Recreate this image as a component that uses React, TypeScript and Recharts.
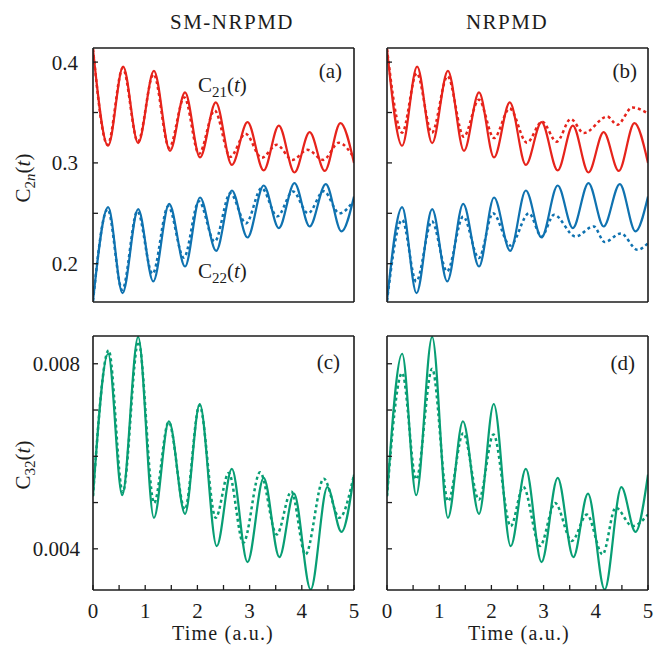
import React from 'react';
import { LineChart, Line, XAxis, YAxis } from 'recharts';

const FONT = '"Liberation Serif", "Times New Roman", serif';
const INK = '#1c1c1c';
const RED = '#e6231b';
const BLUE = '#0f72b0';
const GREEN = '#089e74';

// shared time axis
const timeTicks = [0, 0.5, 1, 1.5, 2, 2.5, 3, 3.5, 4, 4.5, 5];
const timeLabels = ['0', '', '1', '', '2', '', '3', '', '4', '', '5'];

// y ticks, panels (a)/(b) and (c)/(d)
const c2nTicks = [0.2, 0.25, 0.3, 0.35, 0.4];
const c2nLabels = ['0.2', '', '0.3', '', '0.4'];
const c32Ticks = [0.004, 0.005, 0.006, 0.007, 0.008];
const c32Labels = ['0.004', '', '', '', '0.008'];

// C21(t): exact (solid, same in a and b)
const c21ExactT = [0, 0.29, 0.577, 0.865, 1.167, 1.475, 1.763, 2.05, 2.353, 2.66, 2.96, 3.27, 3.56, 3.86, 4.15, 4.44, 4.74, 5.0];
const c21ExactV = [0.413, 0.317, 0.3956, 0.3196, 0.3914, 0.312, 0.37, 0.3054, 0.36, 0.298, 0.3405, 0.2925, 0.337, 0.2905, 0.3305, 0.292, 0.3395, 0.3];
// C21(t): SM-NRPMD (dotted, a)
const c21SmT = [0, 0.28, 0.57, 0.86, 1.16, 1.46, 1.75, 2.03, 2.33, 2.63, 2.92, 3.23, 3.52, 3.82, 4.11, 4.41, 4.71, 5.0];
const c21SmV = [0.413, 0.318, 0.394, 0.321, 0.388, 0.315, 0.365, 0.309, 0.352, 0.306, 0.329, 0.305, 0.318, 0.303, 0.313, 0.303, 0.32, 0.305];
// C21(t): NRPMD (dotted, b)
const c21NrT = [0, 0.29, 0.57, 0.86, 1.16, 1.47, 1.76, 2.05, 2.35, 2.68, 2.97, 3.25, 3.52, 3.77, 4.22, 4.41, 4.7, 5.0];
const c21NrV = [0.413, 0.33, 0.389, 0.33, 0.386, 0.326, 0.3626, 0.3246, 0.354, 0.32, 0.341, 0.321, 0.3435, 0.3296, 0.346, 0.3378, 0.355, 0.349];

// C22(t): exact
const c22ExactT = [0, 0.29, 0.565, 0.865, 1.154, 1.46, 1.763, 2.05, 2.36, 2.66, 2.96, 3.27, 3.56, 3.86, 4.15, 4.46, 4.76, 5.0];
const c22ExactV = [0.163, 0.2561, 0.1708, 0.2542, 0.1824, 0.2594, 0.1972, 0.2657, 0.2128, 0.2726, 0.226, 0.2776, 0.2353, 0.28, 0.2369, 0.279, 0.232, 0.2667];
// C22(t): SM-NRPMD
const c22SmT = [0, 0.28, 0.56, 0.85, 1.14, 1.44, 1.74, 2.03, 2.33, 2.63, 2.93, 3.23, 3.53, 3.83, 4.12, 4.42, 4.72, 5.0];
const c22SmV = [0.163, 0.254, 0.174, 0.252, 0.19, 0.257, 0.206, 0.262, 0.222, 0.27, 0.24, 0.275, 0.247, 0.2716, 0.25, 0.272, 0.25, 0.263];
// C22(t): NRPMD
const c22NrT = [0, 0.29, 0.56, 0.86, 1.15, 1.46, 1.76, 2.03, 2.36, 2.72, 2.96, 3.2, 3.61, 3.96, 4.17, 4.48, 4.8, 5.0];
const c22NrV = [0.163, 0.2435, 0.1824, 0.242, 0.1923, 0.2468, 0.2056, 0.25, 0.218, 0.25, 0.227, 0.2485, 0.227, 0.237, 0.2215, 0.23, 0.2138, 0.2204];

// C32(t): exact (solid, same in c and d)
const c32ExactT = [0, 0.29, 0.56, 0.865, 1.167, 1.455, 1.763, 2.045, 2.37, 2.66, 2.96, 3.27, 3.57, 3.85, 4.17, 4.49, 4.76, 5.0];
const c32ExactV = [0.005137, 0.008216, 0.005159, 0.00858, 0.004669, 0.006757, 0.004756, 0.00713, 0.004058, 0.005727, 0.003713, 0.005533, 0.003821, 0.005194, 0.003121, 0.005332, 0.004367, 0.005604];
// C32(t): SM-NRPMD
const c32SmT = [0, 0.3, 0.57, 0.87, 1.17, 1.45, 1.76, 2.04, 2.35, 2.6, 2.88, 3.2, 3.52, 3.8, 4.07, 4.42, 4.72, 5.0];
const c32SmV = [0.005137, 0.00829, 0.00522, 0.00848, 0.00499, 0.00674, 0.00485, 0.0071, 0.00467, 0.00564, 0.00413, 0.005655, 0.00431, 0.00524, 0.003877, 0.005517, 0.00467, 0.0056];
// C32(t): NRPMD
const c32NrT = [0, 0.29, 0.56, 0.865, 1.17, 1.46, 1.76, 2.04, 2.37, 2.61, 2.93, 3.22, 3.54, 3.83, 4.13, 4.38, 4.7, 5.0];
const c32NrV = [0.005137, 0.0078, 0.0055, 0.00789, 0.00503, 0.0065, 0.00506, 0.00647, 0.00449, 0.00534, 0.00406, 0.00499, 0.00417, 0.00474, 0.00388, 0.00489, 0.00449, 0.00474];

const zip = (t: number[], v: number[]) => t.map((x, i) => ({ t: x, v: v[i] }));

type Curve = { t: number[]; v: number[]; color: string; dotted?: boolean };

const axisLine = { stroke: INK, strokeWidth: 1.6 };
const tickLine = { stroke: INK, strokeWidth: 1.3 };
const tickFont = { fontSize: 21, fontFamily: FONT, fill: INK };

const Panel = ({
  left, top, withTime, yDomain, yTicks, yLabels, yMargin, curves,
}: {
  left: number; top: number; withTime: boolean; yDomain: [number, number];
  yTicks: number[]; yLabels: string[]; yMargin: number; curves: Curve[];
}) => {
  const bottomH = withTime ? 55 : 8;
  return (
    <div style={{ position: 'absolute', left, top }}>
      <LineChart width={360} height={48 + 254 + bottomH} margin={{ top: 0, right: 0, bottom: 0, left: 0 }}>
        <XAxis
          xAxisId="x" type="number" dataKey="t" domain={[0, 5]} allowDataOverflow
          ticks={timeTicks} interval={0} height={bottomH}
          tickSize={-5} tickMargin={18} axisLine={axisLine} tickLine={tickLine}
          tick={withTime ? tickFont : false}
          tickFormatter={(_v: number, i: number) => timeLabels[i]}
        />
        <XAxis
          xAxisId="xt" type="number" orientation="top" domain={[0, 5]} allowDataOverflow
          ticks={timeTicks} interval={0} height={48}
          tickSize={-5} axisLine={axisLine} tickLine={tickLine} tick={false}
        />
        <YAxis
          yAxisId="y" type="number" domain={yDomain} allowDataOverflow
          ticks={yTicks} interval={0} width={93}
          tickSize={-5} tickMargin={yMargin} axisLine={axisLine} tickLine={tickLine}
          tick={tickFont}
          tickFormatter={(_v: number, i: number) => yLabels[i]}
        />
        <YAxis
          yAxisId="yr" type="number" orientation="right" domain={yDomain} allowDataOverflow
          ticks={yTicks} interval={0} width={6}
          tickSize={-5} axisLine={axisLine} tickLine={tickLine} tick={false}
        />
        {curves.map((c, i) => (
          <Line
            key={i}
            data={zip(c.t, c.v)}
            dataKey="v"
            xAxisId="x"
            yAxisId="y"
            type="monotone"
            dot={false}
            activeDot={false}
            stroke={c.color}
            strokeWidth={c.dotted ? 2.5 : 2.2}
            strokeDasharray={c.dotted ? '3 3' : undefined}
            isAnimationActive={false}
          />
        ))}
      </LineChart>
    </div>
  );
};

const txt = { fontFamily: FONT, fill: INK, fontSize: 21 } as const;

export default function App() {
  return (
    <div style={{ position: 'absolute', left: 0, top: 0, width: 654, height: 645, background: '#fff' }}>
      <Panel
        left={0} top={0} withTime={false} yDomain={[0.162, 0.414]} yTicks={c2nTicks} yLabels={c2nLabels} yMargin={20}
        curves={[
          { t: c21ExactT, v: c21ExactV, color: RED },
          { t: c21SmT, v: c21SmV, color: RED, dotted: true },
          { t: c22ExactT, v: c22ExactV, color: BLUE },
          { t: c22SmT, v: c22SmV, color: BLUE, dotted: true },
        ]}
      />
      <Panel
        left={294} top={0} withTime={false} yDomain={[0.162, 0.414]} yTicks={c2nTicks} yLabels={['', '', '', '', '']} yMargin={20}
        curves={[
          { t: c21ExactT, v: c21ExactV, color: RED },
          { t: c21NrT, v: c21NrV, color: RED, dotted: true },
          { t: c22ExactT, v: c22ExactV, color: BLUE },
          { t: c22NrT, v: c22NrV, color: BLUE, dotted: true },
        ]}
      />
      <Panel
        left={0} top={288} withTime yDomain={[0.00311, 0.0086]} yTicks={c32Ticks} yLabels={c32Labels} yMargin={18}
        curves={[
          { t: c32ExactT, v: c32ExactV, color: GREEN },
          { t: c32SmT, v: c32SmV, color: GREEN, dotted: true },
        ]}
      />
      <Panel
        left={294} top={288} withTime yDomain={[0.00311, 0.0086]} yTicks={c32Ticks} yLabels={['', '', '', '', '']} yMargin={18}
        curves={[
          { t: c32ExactT, v: c32ExactV, color: GREEN },
          { t: c32NrT, v: c32NrV, color: GREEN, dotted: true },
        ]}
      />
      <svg width={654} height={645} style={{ position: 'absolute', left: 0, top: 0, pointerEvents: 'none' }}>
        <text {...txt} x={232} y={29} textAnchor="middle" letterSpacing={1.5}>SM-NRPMD</text>
        <text {...txt} x={507} y={29} textAnchor="middle" letterSpacing={1.5}>NRPMD</text>

        <text {...txt} x={342} y={78} textAnchor="end">(a)</text>
        <text {...txt} x={637} y={78} textAnchor="end">(b)</text>
        <text {...txt} x={340} y={369} textAnchor="end">(c)</text>
        <text {...txt} x={635} y={370} textAnchor="end">(d)</text>

        <text {...txt} x={198} y={92}>
          C<tspan fontSize={15} dy={5}>21</tspan><tspan dy={-5}>(</tspan><tspan fontStyle="italic">t</tspan>)
        </text>
        <text {...txt} x={198} y={278}>
          C<tspan fontSize={15} dy={5}>22</tspan><tspan dy={-5}>(</tspan><tspan fontStyle="italic">t</tspan>)
        </text>

        <text {...txt} x={0} y={0} textAnchor="middle" transform="translate(30 178) rotate(-90)">
          C<tspan fontSize={15} dy={5}>2</tspan><tspan fontSize={15} fontStyle="italic">n</tspan><tspan dy={-5}>(</tspan><tspan fontStyle="italic">t</tspan>)
        </text>
        <text {...txt} x={0} y={0} textAnchor="middle" transform="translate(30 465) rotate(-90)">
          C<tspan fontSize={15} dy={5}>32</tspan><tspan dy={-5}>(</tspan><tspan fontStyle="italic">t</tspan>)
        </text>

        <text {...txt} x={223} y={640} fontSize={20} textAnchor="middle" letterSpacing={1.2}>Time (a.u.)</text>
        <text {...txt} x={519} y={640} fontSize={20} textAnchor="middle" letterSpacing={1.2}>Time (a.u.)</text>
      </svg>
    </div>
  );
}
